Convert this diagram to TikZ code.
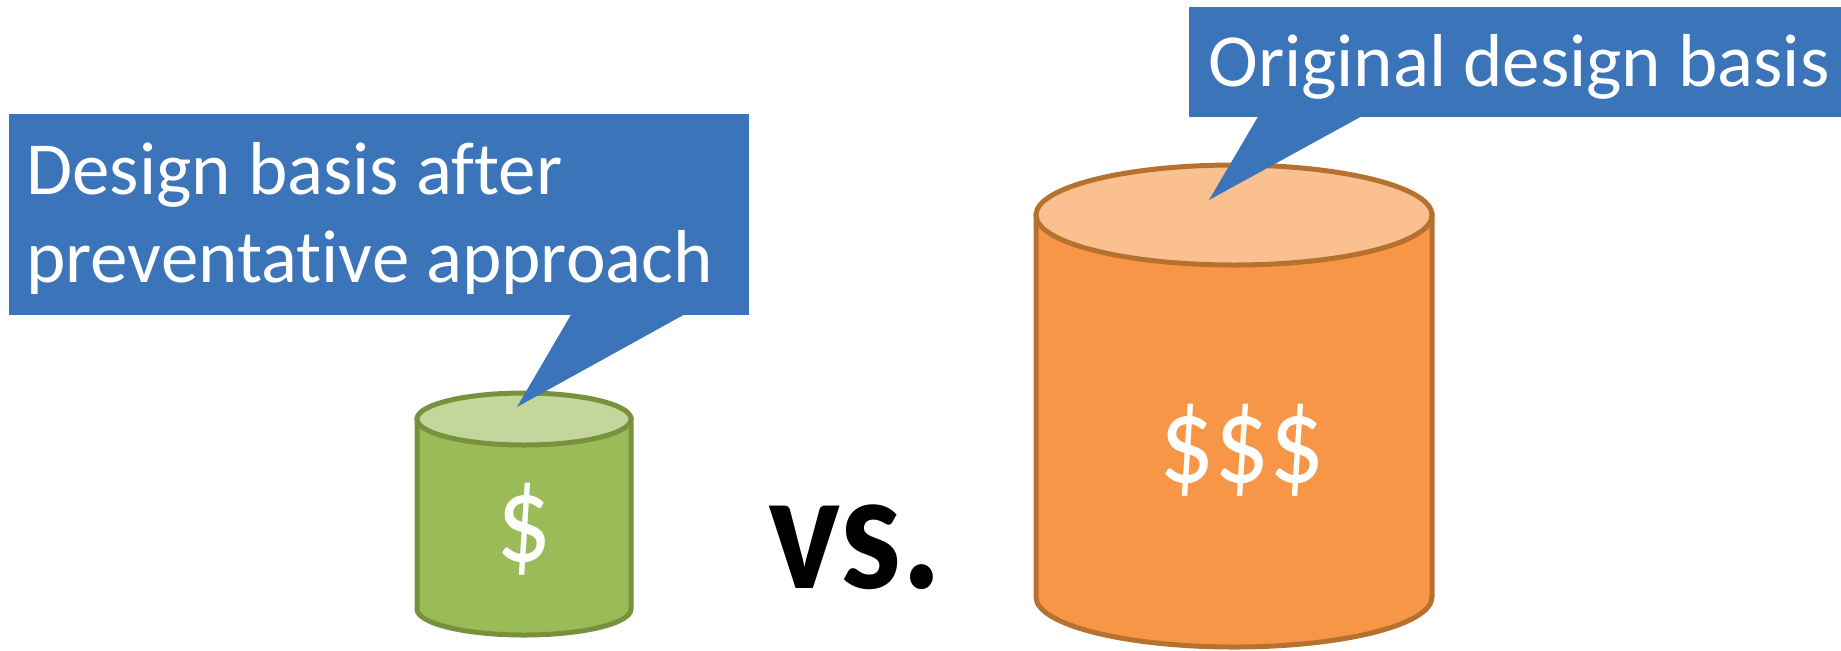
\documentclass[tikz,border=0pt]{standalone}
\usepackage{fontspec}
\setmainfont{Carlito}[Ligatures={NoCommon}]
\definecolor{callblue}{HTML}{3B74B9}
\definecolor{greenbody}{HTML}{9BBB59}
\definecolor{greentop}{HTML}{C3D69B}
\definecolor{greenline}{HTML}{76923C}
\definecolor{orangebody}{HTML}{F79646}
\definecolor{orangetop}{HTML}{FAC090}
\definecolor{orangeline}{HTML}{B7712F}
\begin{document}
\begin{tikzpicture}[x=0.5pt,y=-0.5pt,
  calltext/.style={anchor=base west,inner sep=0pt,text=white,font=\fontsize{37.5}{44}\selectfont},
  money/.style={inner sep=0pt,text=white,font=\fontsize{62}{66}\selectfont},
  callbox/.style={fill=callblue,draw=none,inner sep=0pt},
  rim/.style={line width=2.5pt}]
\useasboundingbox (0,0) rectangle (1841,650);

% small green cylinder
\fill[greenbody,draw=greenline,rim]
  (417,419) -- (417,609) arc[start angle=180,end angle=0,x radius=107,y radius=26] -- (631,419) -- cycle;
\draw[fill=greentop,draw=greenline,rim] (524,419) ellipse[x radius=107,y radius=26];
\node[money] (gdollar) at (524,529) {\scalebox{0.88}[1]{\$}};

% large orange cylinder
\fill[orangebody,draw=orangeline,rim]
  (1036,215) -- (1036,597) arc[start angle=180,end angle=0,x radius=198,y radius=50] -- (1432,215) -- cycle;
\draw[fill=orangetop,draw=orangeline,rim] (1234,215) ellipse[x radius=198,y radius=50];
\node[money] (odollar) at (1242,450) {\scalebox{0.88}[1]{\$\$\$}};

% comparison word
\node[anchor=base,inner sep=0pt,font=\fontsize{85}{90}\selectfont\bfseries] (vs) at (855,588) {\scalebox{0.9}[1]{vs.}};

% callout for the small cylinder
\node[callbox,minimum width=370pt,minimum height=100.5pt] (lbox) at (379,214.5) {};
\coordinate (ltip) at (517,407);
\fill[callblue] (572,313) -- (687,313) -- (ltip) -- cycle;
\node[calltext] (l1) at (26,194) {Design basis after};
\node[calltext] (l2) at (26,282) {preventative approach};

% callout for the large cylinder
\node[callbox,minimum width=326pt,minimum height=55pt] (rbox) at (1515,62) {};
\coordinate (rtip) at (1209,200);
\fill[callblue] (1259,115) -- (1364,115) -- (rtip) -- cycle;
\node[calltext] (r1) at (1208,86) {Original design basis};
\end{tikzpicture}
\end{document}
